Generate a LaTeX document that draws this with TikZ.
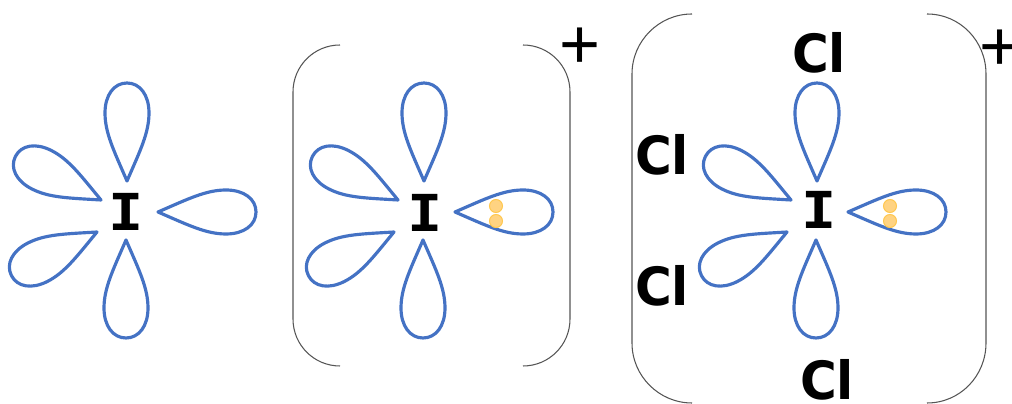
\documentclass[tikz,border=0pt]{standalone}
\usepackage{fontspec}
\newfontfamily\clfont[FakeStretch=0.95]{DejaVu Sans}
\newfontfamily\iodinefont[FakeStretch=1.15]{DejaVu Sans Mono}
\setmainfont{Liberation Sans}
\definecolor{LobeBlue}{RGB}{68,114,196}
\definecolor{PairFill}{RGB}{255,211,130}
\definecolor{PairEdge}{RGB}{255,200,80}
\definecolor{BracketGray}{RGB}{85,85,85}
\tikzset{
  lobeline/.style={draw=LobeBlue,line width=1.8pt,line join=round},
  lobe/.pic={\draw[lobeline] (0,0) .. controls (30,13) and (48,22) .. (68,22) .. controls (86,22) and (98,13) .. (98,0) .. controls (98,-13) and (86,-22) .. (68,-22) .. controls (48,-22) and (30,-13) .. (0,0) -- cycle;},
  lobeset/.pic={
    \pic[rotate=90] at (127,181) {lobe};
    \pic[rotate=-90] at (126,240) {lobe};
    \pic at (158,212) {lobe};
    \pic[rotate=153,scale=0.98] at (101,200) {lobe};
    \pic[rotate=207,scale=0.98] at (97,232) {lobe};
  }
}
\begin{document}
\begin{tikzpicture}[x=0.02cm,y=-0.02cm, every node/.style={inner sep=0pt,outer sep=0pt},
  bracket/.style={draw=BracketGray,line width=0.6pt},
  pair/.style={circle,draw=PairEdge,fill=PairFill,line width=0.6pt,minimum size=0.26cm},
  atomI/.style={font=\iodinefont\bfseries\fontsize{29}{29}\selectfont},
  atomCl/.style={font=\clfont\bfseries\fontsize{30}{30}\selectfont},
  charge/.style={font=\fontsize{40}{40}\selectfont}]
\useasboundingbox (0,0) rectangle (1012,404);
% first atom
\pic at (0,0) {lobeset};
\node[atomI] (iodineA) at (126,212) {I};
% second atom
\pic at (297,0) {lobeset};
\node[atomI] (iodineB) at (425,213) {I};
\node[pair] (pairBa) at (496,206) {};
\node[pair] (pairBb) at (496,221) {};
\draw[bracket] (340,45) .. controls (314,45) and (293,66) .. (293,92) -- (293,319) .. controls (293,345) and (314,366) .. (340,366);
\draw[bracket] (523,45) .. controls (549,45) and (570,66) .. (570,92) -- (570,319) .. controls (570,345) and (549,366) .. (523,366);
\node[charge] (chargeB) at (580,48) {+};
% third atom
\pic at (690,0) {lobeset};
\node[atomI] (iodineC) at (819,210) {I};
\node[pair] (pairCa) at (890,206) {};
\node[pair] (pairCb) at (890,221) {};
\node[atomCl] (clTop) at (819,53) {Cl};
\node[atomCl] (clUpper) at (662,155) {Cl};
\node[atomCl] (clLower) at (662,286) {Cl};
\node[atomCl] (clBottom) at (827,380) {Cl};
\draw[bracket] (692,14) .. controls (659,14) and (632,41) .. (632,74) -- (632,343) .. controls (632,376) and (659,403) .. (692,403);
\draw[bracket] (927,14) .. controls (960,14) and (986,41) .. (986,74) -- (986,343) .. controls (986,376) and (960,403) .. (927,403);
\node[charge] (chargeC) at (1000,50) {+};
\end{tikzpicture}
\end{document}
